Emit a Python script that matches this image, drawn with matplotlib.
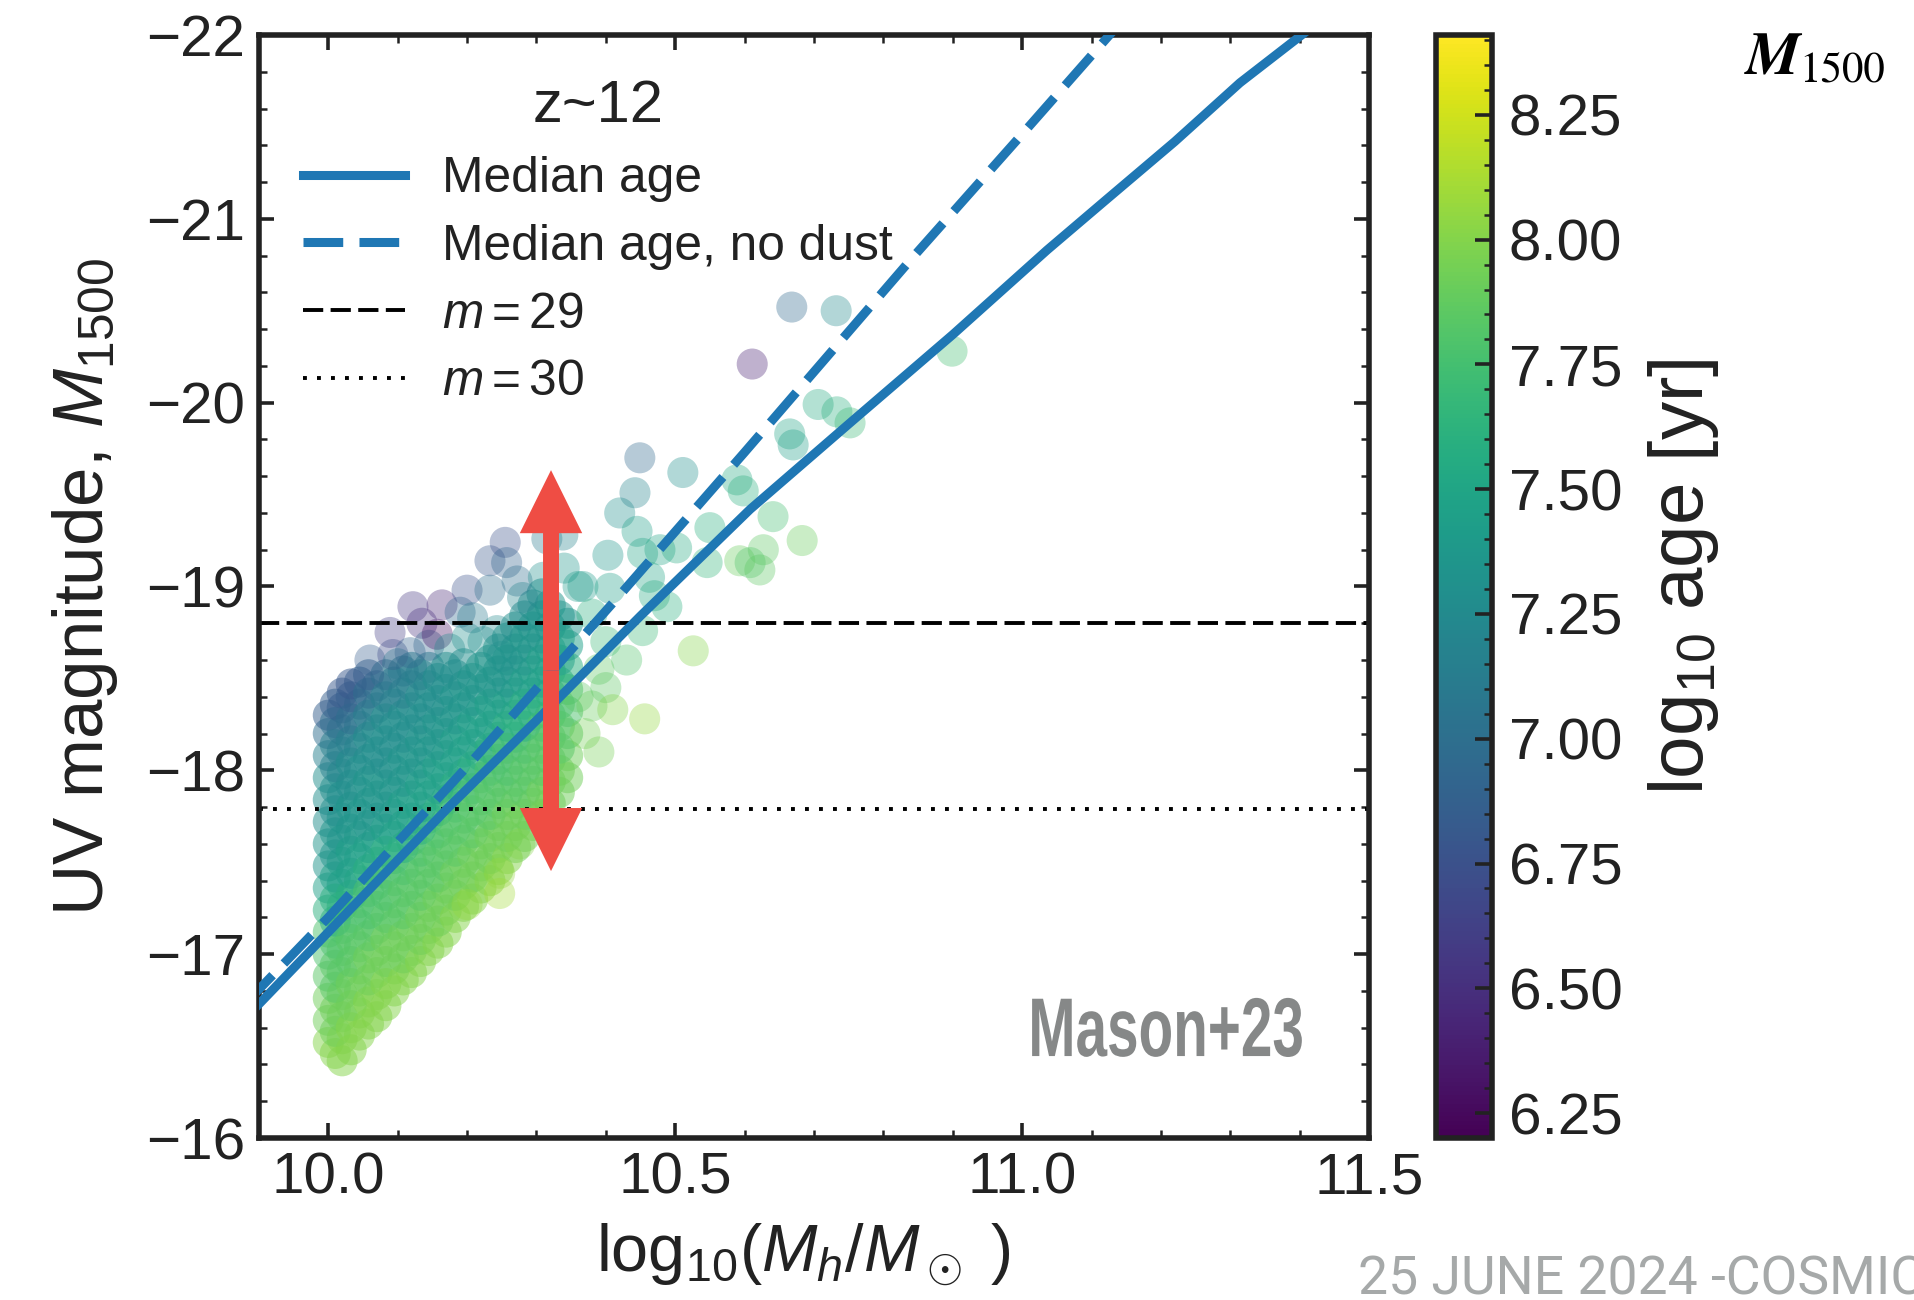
import numpy as np
import matplotlib
matplotlib.use('Agg')
import matplotlib.pyplot as plt
import matplotlib.patheffects as pe
from matplotlib.transforms import Affine2D
from matplotlib.ticker import MultipleLocator, FormatStrFormatter
from matplotlib.colors import Normalize
from matplotlib.cm import ScalarMappable

plt.rcParams['font.family'] = ['Liberation Sans', 'DejaVu Sans']
plt.rcParams['mathtext.fontset'] = 'custom'
plt.rcParams['mathtext.rm'] = 'Liberation Sans'
plt.rcParams['mathtext.it'] = 'Liberation Sans:italic'
plt.rcParams['mathtext.bf'] = 'Liberation Sans:bold'

# --- median relations ---
med_x = [9.88, 10.0, 10.171, 10.305, 10.45, 10.608, 10.752, 10.9, 11.036, 11.12, 11.22, 11.314, 11.42]
med_mag = [-16.65, -17.12, -17.79, -18.29, -18.84, -19.42, -19.89, -20.37, -20.83, -21.10, -21.42, -21.74, -22.05]
nodust_x = [9.88, 10.0, 10.2, 10.41, 10.6, 10.84, 11.0, 11.14]
nodust_mag = [-16.73, -17.20, -18.02, -18.91, -19.73, -20.78, -21.46, -22.06]
m29_mag = -18.80
m30_mag = -17.79

# --- dense cloud of galaxies, one list per halo-mass column ---
core_cols = [10.00, 10.02, 10.045, 10.07, 10.095, 10.12, 10.145, 10.17, 10.195, 10.22, 10.245, 10.27, 10.295, 10.32, 10.345]
core_mag = [
    [-16.52, -16.64, -16.76, -16.88, -17.00, -17.12, -17.24, -17.36, -17.48, -17.60, -17.72, -17.84, -17.96, -18.08, -18.20, -18.30],
    [-16.42, -16.54, -16.66, -16.78, -16.90, -17.02, -17.14, -17.26, -17.38, -17.50, -17.62, -17.74, -17.86, -17.98, -18.10, -18.22, -18.34, -18.42],
    [-16.56, -16.68, -16.80, -16.92, -17.04, -17.16, -17.28, -17.40, -17.52, -17.64, -17.76, -17.88, -18.00, -18.12, -18.24, -18.36, -18.48],
    [-16.66, -16.78, -16.90, -17.02, -17.14, -17.26, -17.38, -17.50, -17.62, -17.74, -17.86, -17.98, -18.10, -18.22, -18.34, -18.46],
    [-16.80, -16.92, -17.04, -17.16, -17.28, -17.40, -17.52, -17.64, -17.76, -17.88, -18.00, -18.12, -18.24, -18.36, -18.48],
    [-16.90, -17.02, -17.14, -17.26, -17.38, -17.50, -17.62, -17.74, -17.86, -17.98, -18.10, -18.22, -18.34, -18.46, -18.56],
    [-17.02, -17.14, -17.26, -17.38, -17.50, -17.62, -17.74, -17.86, -17.98, -18.10, -18.22, -18.34, -18.46, -18.56],
    [-17.12, -17.24, -17.36, -17.48, -17.60, -17.72, -17.84, -17.96, -18.08, -18.20, -18.32, -18.44, -18.56],
    [-17.26, -17.38, -17.50, -17.62, -17.74, -17.86, -17.98, -18.10, -18.22, -18.34, -18.46, -18.58],
    [-17.36, -17.48, -17.60, -17.72, -17.84, -17.96, -18.08, -18.20, -18.32, -18.44, -18.56],
    [-17.46, -17.58, -17.70, -17.82, -17.94, -18.06, -18.18, -18.30, -18.42, -18.54, -18.66],
    [-17.58, -17.70, -17.82, -17.94, -18.06, -18.18, -18.30, -18.42, -18.54, -18.66, -18.78],
    [-17.70, -17.82, -17.94, -18.06, -18.18, -18.30, -18.42, -18.54, -18.66, -18.78, -18.90],
    [-17.82, -17.94, -18.06, -18.18, -18.30, -18.42, -18.54, -18.66, -18.78, -18.90],
    [-17.96, -18.08, -18.20, -18.32, -18.44, -18.56, -18.68, -18.80],
]
core_age = [
    [8.00, 7.92, 7.92, 7.84, 7.78, 7.78, 7.60, 7.45, 7.35, 7.35, 7.28, 7.28, 7.28, 7.15, 7.00, 6.85],
    [8.00, 8.00, 7.92, 7.92, 7.84, 7.84, 7.78, 7.60, 7.45, 7.45, 7.35, 7.35, 7.28, 7.28, 7.15, 7.00, 6.85, 6.80],
    [8.00, 8.00, 7.92, 7.92, 7.84, 7.78, 7.78, 7.60, 7.45, 7.45, 7.35, 7.35, 7.28, 7.28, 7.15, 7.00, 6.85],
    [8.00, 8.00, 7.92, 7.92, 7.84, 7.78, 7.78, 7.60, 7.45, 7.35, 7.35, 7.35, 7.28, 7.28, 7.15, 7.00],
    [8.00, 7.92, 7.92, 7.84, 7.84, 7.78, 7.60, 7.45, 7.45, 7.35, 7.35, 7.28, 7.28, 7.15, 7.15],
    [8.00, 7.92, 7.92, 7.84, 7.84, 7.78, 7.60, 7.45, 7.45, 7.35, 7.35, 7.28, 7.28, 7.15, 7.15],
    [8.00, 7.92, 7.92, 7.84, 7.84, 7.78, 7.60, 7.45, 7.45, 7.35, 7.35, 7.28, 7.28, 7.15],
    [8.00, 7.92, 7.92, 7.84, 7.84, 7.78, 7.60, 7.45, 7.45, 7.35, 7.35, 7.28, 7.28],
    [8.00, 7.92, 7.92, 7.84, 7.78, 7.78, 7.60, 7.45, 7.45, 7.35, 7.35, 7.28],
    [8.00, 7.92, 7.92, 7.84, 7.78, 7.78, 7.60, 7.45, 7.45, 7.35, 7.35],
    [8.00, 7.92, 7.92, 7.84, 7.78, 7.78, 7.60, 7.45, 7.35, 7.35, 7.35],
    [7.92, 7.92, 7.92, 7.84, 7.78, 7.60, 7.60, 7.45, 7.35, 7.35, 7.28],
    [7.92, 7.92, 7.84, 7.84, 7.78, 7.60, 7.45, 7.45, 7.35, 7.35, 7.28],
    [7.92, 7.92, 7.84, 7.84, 7.78, 7.60, 7.45, 7.45, 7.35, 7.35],
    [7.92, 7.92, 7.84, 7.78, 7.78, 7.60, 7.45, 7.35],
]

# second, staggered set of columns in the same cloud
core_b_cols = [10.01, 10.033, 10.058, 10.083, 10.108, 10.133, 10.158, 10.183, 10.208, 10.233, 10.258, 10.283, 10.308, 10.333]
core_b_mag = [
    [-16.46, -16.58, -16.70, -16.82, -16.94, -17.06, -17.18, -17.30, -17.42, -17.54, -17.66, -17.78, -17.90, -18.02, -18.14, -18.26, -18.36],
    [-16.48, -16.60, -16.72, -16.84, -16.96, -17.08, -17.20, -17.32, -17.44, -17.56, -17.68, -17.80, -17.92, -18.04, -18.16, -18.28, -18.40, -18.47],
    [-16.62, -16.74, -16.86, -16.98, -17.10, -17.22, -17.34, -17.46, -17.58, -17.70, -17.82, -17.94, -18.06, -18.18, -18.30, -18.42, -18.52],
    [-16.72, -16.84, -16.96, -17.08, -17.20, -17.32, -17.44, -17.56, -17.68, -17.80, -17.92, -18.04, -18.16, -18.28, -18.40, -18.52],
    [-16.86, -16.98, -17.10, -17.22, -17.34, -17.46, -17.58, -17.70, -17.82, -17.94, -18.06, -18.18, -18.30, -18.42, -18.54],
    [-16.96, -17.08, -17.20, -17.32, -17.44, -17.56, -17.68, -17.80, -17.92, -18.04, -18.16, -18.28, -18.40, -18.52],
    [-17.06, -17.18, -17.30, -17.42, -17.54, -17.66, -17.78, -17.90, -18.02, -18.14, -18.26, -18.38, -18.50],
    [-17.20, -17.32, -17.44, -17.56, -17.68, -17.80, -17.92, -18.04, -18.16, -18.28, -18.40, -18.52],
    [-17.30, -17.42, -17.54, -17.66, -17.78, -17.90, -18.02, -18.14, -18.26, -18.38, -18.50],
    [-17.40, -17.52, -17.64, -17.76, -17.88, -18.00, -18.12, -18.24, -18.36, -18.48, -18.60],
    [-17.52, -17.64, -17.76, -17.88, -18.00, -18.12, -18.24, -18.36, -18.48, -18.60, -18.72],
    [-17.64, -17.76, -17.88, -18.00, -18.12, -18.24, -18.36, -18.48, -18.60, -18.72, -18.84],
    [-17.76, -17.88, -18.00, -18.12, -18.24, -18.36, -18.48, -18.60, -18.72, -18.84, -18.96],
    [-17.88, -18.00, -18.12, -18.24, -18.36, -18.48, -18.60, -18.72, -18.84],
]
core_b_age = [
    [8.00, 7.92, 7.92, 7.84, 7.84, 7.78, 7.60, 7.60, 7.45, 7.35, 7.35, 7.28, 7.28, 7.15, 7.15, 7.00, 6.85],
    [8.00, 8.00, 7.92, 7.92, 7.84, 7.84, 7.78, 7.60, 7.45, 7.45, 7.35, 7.35, 7.28, 7.28, 7.15, 7.00, 6.85, 6.80],
    [8.00, 8.00, 7.92, 7.92, 7.84, 7.78, 7.78, 7.60, 7.45, 7.35, 7.35, 7.35, 7.28, 7.28, 7.15, 7.00, 6.85],
    [8.00, 8.00, 7.92, 7.92, 7.84, 7.78, 7.78, 7.60, 7.45, 7.35, 7.35, 7.28, 7.28, 7.28, 7.15, 7.00],
    [8.00, 7.92, 7.92, 7.84, 7.84, 7.78, 7.60, 7.45, 7.45, 7.35, 7.35, 7.28, 7.28, 7.15, 7.10],
    [8.00, 7.92, 7.92, 7.84, 7.84, 7.78, 7.60, 7.45, 7.45, 7.35, 7.35, 7.28, 7.28, 7.15],
    [8.00, 7.92, 7.92, 7.84, 7.84, 7.78, 7.60, 7.45, 7.45, 7.35, 7.35, 7.28, 7.28],
    [8.00, 7.92, 7.92, 7.84, 7.84, 7.78, 7.60, 7.45, 7.45, 7.35, 7.35, 7.28],
    [8.00, 7.92, 7.92, 7.84, 7.84, 7.78, 7.60, 7.45, 7.45, 7.35, 7.35],
    [8.00, 7.92, 7.92, 7.84, 7.84, 7.78, 7.60, 7.45, 7.45, 7.35, 7.35],
    [8.00, 7.92, 7.92, 7.84, 7.78, 7.78, 7.60, 7.45, 7.35, 7.35, 7.35],
    [7.92, 7.92, 7.84, 7.84, 7.78, 7.60, 7.60, 7.45, 7.35, 7.35, 7.28],
    [7.92, 7.92, 7.84, 7.84, 7.78, 7.60, 7.45, 7.45, 7.35, 7.35, 7.28],
    [7.92, 7.92, 7.84, 7.84, 7.78, 7.60, 7.45, 7.45, 7.35],
]

# young band above the cloud
band_x = [10.060, 10.089, 10.093, 10.100, 10.118, 10.122, 10.135, 10.145, 10.157, 10.164, 10.175, 10.190, 10.200, 10.200, 10.208,
          10.223, 10.233, 10.233, 10.243, 10.250, 10.255, 10.257, 10.272, 10.280, 10.310, 10.315, 10.338, 10.340, 10.360]
band_mag = [-18.60, -18.75, -18.63, -18.58, -18.64, -18.89, -18.80, -18.68, -18.74, -18.90, -18.66, -18.86, -18.98, -18.72, -18.83,
            -18.70, -19.14, -18.98, -18.76, -18.62, -19.24, -19.13, -19.03, -18.94, -19.05, -19.26, -19.28, -19.10, -19.00]
band_age = [6.85, 6.60, 6.70, 7.10, 6.90, 6.55, 6.50, 6.90, 6.30, 6.45, 7.25, 6.95, 6.75, 7.30, 7.10,
            7.30, 6.80, 7.00, 7.25, 7.30, 6.75, 6.90, 7.00, 7.20, 7.30, 7.10, 7.20, 7.35, 7.40]

# brighter haloes right of the arrow
mid_x = [10.367, 10.380, 10.403, 10.406, 10.400, 10.420, 10.430, 10.442, 10.445, 10.449, 10.453, 10.453, 10.463, 10.470, 10.478,
         10.488, 10.502, 10.511, 10.526, 10.546, 10.550, 10.589, 10.593, 10.598, 10.608, 10.622, 10.627, 10.641, 10.683]
mid_mag = [-19.00, -18.85, -19.17, -18.99, -18.70, -19.40, -18.60, -19.51, -19.30, -19.70, -19.18, -18.76, -19.05, -18.95, -19.20,
           -18.89, -19.21, -19.62, -18.65, -19.13, -19.32, -19.58, -19.14, -19.52, -19.13, -19.09, -19.20, -19.38, -19.25]
mid_age = [7.40, 7.60, 7.35, 7.45, 7.70, 7.30, 7.80, 7.20, 7.45, 6.95, 7.50, 7.70, 7.50, 7.55, 7.50,
           7.60, 7.55, 7.30, 8.00, 7.65, 7.60, 7.55, 7.90, 7.60, 7.80, 7.85, 7.85, 7.75, 7.90]

# old, faint edge of the cloud
low_x = [10.360, 10.370, 10.380, 10.390, 10.390, 10.400, 10.410, 10.456, 10.200, 10.247, 10.247, 10.276, 10.310]
low_mag = [-18.40, -18.20, -18.35, -18.55, -18.10, -18.45, -18.33, -18.28, -17.27, -17.33, -17.44, -17.60, -17.75]
low_age = [7.85, 7.95, 7.90, 7.85, 7.95, 7.85, 8.00, 8.05, 8.05, 8.10, 8.05, 8.00, 7.95]

# most massive outliers
top_x = [10.611, 10.665, 10.668, 10.670, 10.706, 10.732, 10.733, 10.752, 10.899]
top_mag = [-20.21, -19.83, -20.52, -19.77, -19.99, -20.50, -19.95, -19.89, -20.28]
top_age = [6.40, 7.50, 6.95, 7.45, 7.55, 7.25, 7.60, 7.70, 7.75]

cbar_ticks = [6.25, 6.50, 6.75, 7.00, 7.25, 7.50, 7.75, 8.00, 8.25]
y_ticks = [-22, -21, -20, -19, -18, -17, -16]
x_ticks = [10.0, 10.5, 11.0, 11.5]

# arrow spanning m=29 to m=30 region
arrow_x = 10.321
arrow_top = -19.633
arrow_bot = -17.452


class Squeeze(pe.AbstractPathEffect):
    # narrow the glyphs horizontally about a fixed x (pixels)
    def __init__(self, sx, x0):
        super().__init__()
        self.sx = sx
        self.x0 = x0

    def draw_path(self, renderer, gc, tpath, affine, rgbFace=None):
        squeeze = Affine2D().translate(-self.x0, 0).scale(self.sx, 1).translate(self.x0, 0)
        renderer.draw_path(gc, tpath, affine + squeeze, rgbFace)


# flatten the column data
cols = core_cols + core_b_cols
mags = core_mag + core_b_mag
ages = core_age + core_b_age
core_x = [x for x, col in zip(cols, mags) for _ in col]
core_y = [m for col in mags for m in col]
core_c = [a for col in ages for a in col]
halo_x = band_x + mid_x + low_x + top_x
halo_y = band_mag + mid_mag + low_mag + top_mag
halo_c = band_age + mid_age + low_age + top_age

W, H = 1915, 1300
fig = plt.figure(figsize=(W / 100, H / 100), dpi=100)
ax = fig.add_axes([0.1352, 0.1246, 0.5797, 0.8485])
cax = fig.add_axes([0.7499, 0.1246, 0.0292, 0.8485])

norm = Normalize(vmin=6.2, vmax=8.41)
cmap = plt.get_cmap('viridis')

ax.scatter(core_x, core_y, c=core_c, cmap=cmap, norm=norm, s=500,
           alpha=0.5, edgecolors='none', zorder=1)
ax.scatter(halo_x, halo_y, c=halo_c, cmap=cmap, norm=norm, s=500,
           alpha=0.35, edgecolors='none', zorder=1)

blue = '#1f77b4'
ax.plot(med_x, med_mag, color=blue, lw=6.5, label='Median age', zorder=3)
ax.plot(nodust_x, nodust_mag, color=blue, lw=6.5, dashes=(4.4, 1.8), label='Median age, no dust', zorder=3)
ax.axhline(m29_mag, color='k', lw=2.8, dashes=(5.2, 1.9), label='$m=29$', zorder=2)
ax.axhline(m30_mag, color='k', lw=2.8, dashes=(1, 2.6), label='$m=30$', zorder=2)

# red double arrow
red = '#ef4d44'
arrow_mid = 0.5 * (arrow_top + arrow_bot)
for tip in (arrow_top, arrow_bot):
    ax.arrow(arrow_x, arrow_mid, 0, tip - arrow_mid, width=0.023, head_width=0.09, head_length=0.343,
             length_includes_head=True, color=red, lw=0, zorder=6)

ax.set_xlim(9.9, 11.5)
ax.set_ylim(-16, -22)
ax.set_xticks(x_ticks)
ax.set_yticks(y_ticks)
ax.xaxis.set_major_formatter(FormatStrFormatter('%.1f'))
ax.xaxis.set_minor_locator(MultipleLocator(0.1))
ax.yaxis.set_minor_locator(MultipleLocator(0.2))
ax.tick_params(which='both', direction='in', top=True, right=True, colors='#222222', labelcolor='#222222')
ax.tick_params(which='major', length=11, width=2.6, labelsize=42, pad=10)
ax.tick_params(which='minor', length=6, width=1.8)
for sp in ax.spines.values():
    sp.set_linewidth(4)
    sp.set_color('#222222')

ax.set_xlabel(r'log$_{10}$($M_h$/$M_\odot$ )', fontsize=48, color='#222222')
ax.set_ylabel(r'UV magnitude, $M_{1500}$', fontsize=51, color='#222222')
ax.xaxis.set_label_coords(0.49, -0.075)
ax.yaxis.set_label_coords(-0.125, 0.5)

leg = ax.legend(title='z~12', loc='upper left', bbox_to_anchor=(0.022, 0.978), borderaxespad=0,
                frameon=False, fontsize=35.7, title_fontsize=43, handlelength=2.05, handletextpad=0.75,
                labelspacing=0.44)
for t in leg.get_texts():
    t.set_color('#222222')
leg.get_title().set_color('#222222')

# "Mason+23" in a narrowed bold face
mason_right = 0.9414
x0 = (0.1352 + mason_right * 0.5797) * W
ax.text(mason_right, 0.0743, 'Mason+23', transform=ax.transAxes, ha='right', va='baseline',
        fontsize=60, fontweight='bold', color='#868888', zorder=7,
        path_effects=[Squeeze(0.68, x0)])

# colorbar
sm = ScalarMappable(norm=norm, cmap=cmap)
cb = fig.colorbar(sm, cax=cax)
cb.set_ticks(cbar_ticks)
cb.ax.yaxis.set_major_formatter(FormatStrFormatter('%.2f'))
cb.ax.yaxis.set_minor_locator(MultipleLocator(0.05))
cb.ax.tick_params(which='both', direction='in', right=True, left=False, colors='#222222')
cb.ax.tick_params(which='major', length=12, width=2.6, labelsize=42, pad=12)
cb.ax.tick_params(which='minor', length=6, width=1.8)
cb.outline.set_linewidth(4)
cb.outline.set_edgecolor('#222222')
cb.set_label(r'log$_{10}$ age [yr]', fontsize=55, color='#222222')
cb.ax.yaxis.set_label_coords(3.75, 0.509)

# slide overlays
fig.text(0.9117, 0.9430, 'M', family='STIXGeneral', fontweight='bold', fontstyle='italic', fontsize=44, color='black')
fig.text(0.9395, 0.9374, '1500', family='STIXGeneral', fontsize=31, color='black')
fig.text(0.7091, 0.004, '25 JUNE 2024 -COSMIC', family=['Roboto', 'DejaVu Sans'], fontsize=38.5, color='#a6a9a9')

fig.savefig('out.png', dpi=100)
